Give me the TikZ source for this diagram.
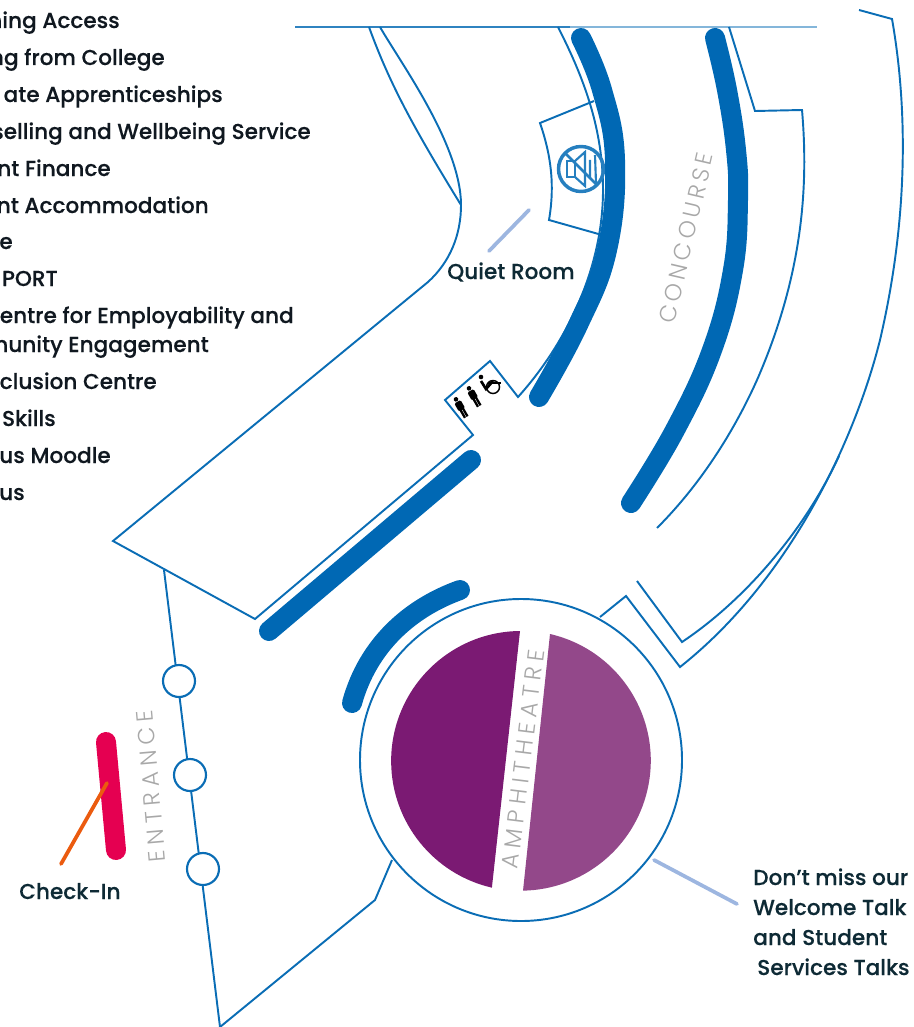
\documentclass[tikz,border=0pt]{standalone}
\usepackage{fontspec}
\newfontfamily\lab[FakeBold=0.25]{Poppins Medium}
\newfontfamily\thinlab[LetterSpace=23]{Poppins Light}
\newfontfamily\thincc[LetterSpace=17]{Poppins Light}
\definecolor{wall}{HTML}{0A6DB5}
\definecolor{band}{HTML}{0068B4}
\definecolor{pinkb}{HTML}{E50051}
\definecolor{orangeb}{HTML}{EB5B0F}
\definecolor{pointer}{HTML}{9DB6E0}
\definecolor{purpleA}{HTML}{7B1A73}
\definecolor{purpleB}{HTML}{93488A}
\definecolor{greyt}{HTML}{A8A8A8}
\definecolor{ink}{HTML}{101820}
\definecolor{inkb}{HTML}{0E2A35}
\tikzset{
 x=0.75pt,y=-0.75pt,
 wl/.style={draw=wall,line width=1.45pt,line join=miter},
 bandl/.style={draw=band,line width=15pt,line cap=round,line join=round},
 ptr/.style={draw=pointer,line width=2.8pt,line cap=round},
 listt/.style={anchor=base east,inner sep=0pt,font=\lab\fontsize{16.2}{16.2}\selectfont,text=ink},
 labt/.style={anchor=base west,inner sep=0pt,font=\lab\fontsize{16.2}{16.2}\selectfont,text=inkb},
 roomt/.style={inner sep=0pt,font=\thinlab\fontsize{17.5}{17.5}\selectfont,text=greyt},
 roomc/.style={inner sep=0pt,font=\thincc\fontsize{17.5}{17.5}\selectfont,text=greyt},
 door/.style={circle,draw=wall,line width=1.6pt,fill=white,minimum size=24pt,inner sep=0pt},
 person/.style={fill=black,draw=none},
}
\begin{document}
\begin{tikzpicture}
\useasboundingbox (0,0) rectangle (913,1027);
% list texts
\node[listt] (l1) at (120,28) {ning Access};
\node[listt] (l2) at (165,65) {ng from College};
\node[listt] (l3) at (223,102) {ate Apprenticeships};
\node[listt] (l4) at (311,139) {selling and Wellbeing Service};
\node[listt] (l5) at (111,176) {nt Finance};
\node[listt] (l6) at (209,213) {nt Accommodation};
\node[listt] (l7) at (13,249) {e};
\node[listt] (l8) at (58,286) {PORT};
\node[listt] (l9) at (294,323) {entre for Employability and};
\node[listt] (l10) at (209,352) {munity Engagement};
\node[listt] (l11) at (157,389) {clusion Centre};
\node[listt] (l12) at (56,426) {Skills};
\node[listt] (l13) at (111,463) {us Moodle};
\node[listt] (l14) at (25,500) {us};
% top rule
\draw[draw=wall!85,line width=0.85pt] (295,27) -- (570,27);
\draw[draw=wall!50,line width=0.8pt] (570,27) -- (817,27);
% left building wall
\draw[wl] (369,27) .. controls (390,85) and (415,130) .. (461,205);
\draw[wl] (380,27) .. controls (400,62) and (461,145) .. (461,205)
  .. controls (461,235) and (450,262) .. (428,282) -- (113,541) -- (255,619) -- (473,435) -- (445,400) -- (490,361) -- (518,397)
  .. controls (565,345) and (603,270) .. (603,190) .. controls (603,130) and (585,80) .. (558,27);
% quiet room
\draw[wl] (594,101) -- (540,123) .. controls (551,155) and (555,185) .. (549,220) -- (602,235);
% no sound icon
\begin{scope}[draw=band!85,line width=2.6pt]
 \draw (581,169) circle (22.5);
 \draw[line width=1.6pt] (567,161) rectangle (575,177);
 \draw[line width=1.6pt] (575,161) -- (585,152) -- (585,186) -- (575,177);
 \draw[line width=1.6pt] (590,160) -- (590,178) (595,155) -- (596,183);
 \draw[line width=1.9pt] (565,153) -- (597,185);
\end{scope}
% bands
\draw[bandl] plot[smooth,tension=0.7] coordinates {(581,38) (602,90) (615,160) (607,250) (578,325) (539,397)};
\draw[bandl] plot[smooth,tension=0.7] coordinates {(715,38) (727,90) (736,150) (738,200) (733,270) (712,350) (675,430) (631,503)};
\draw[bandl] (471,460) -- (269,631);
\draw[bandl] (460,590) .. controls (410,608) and (368,645) .. (352,703);
% concourse walls
\draw[wl] (729,27) -- (755,111) -- (802,110) .. controls (808,180) and (805,270) .. (757,380) .. controls (730,440) and (695,490) .. (657,528);
\draw[wl] (859,10) -- (892,19) .. controls (908,110) and (908,220) .. (880,340) .. controls (855,440) and (790,580) .. (680,667) -- (626,596) -- (600,617);
\draw[wl] (637,581) -- (682,642) .. controls (745,600) and (805,530) .. (839,456);
% entrance wall
\draw[wl] (164,570) -- (220,1027) -- (375,900) -- (392,860);
% amphitheatre
\draw[wl,fill=white] (521,760) circle (161);
\fill[purpleA] (520,631) arc[start angle=-90.5,end angle=-257,radius=130] -- cycle;
\fill[purpleB] (550,634) arc[start angle=-77,end angle=89,radius=130] -- cycle;
% doors
\node[door] (d1) at (179,681) {};
\node[door] (d2) at (190,775) {};
\node[door] (d3) at (203,869) {};
% check-in
\draw[draw=pinkb,line width=15pt,line cap=round] (106,742) -- (116,850);
\draw[draw=orangeb,line width=2.8pt,line cap=round] (107,783) -- (61,864);
% pointers
\draw[ptr] (529,210) -- (489,251);
\draw[ptr] (654,860) -- (737,904);
% toilets icons
\foreach \px/\py in {461/408,474/397}{
\begin{scope}[shift={(\px,\py)},rotate=30]
 \fill[person] (0,-10) circle (2.3);
 \fill[person,rounded corners=1pt] (-3.6,-7.2) rectangle (3.6,2);
 \fill[person] (-2.6,1) rectangle (-0.3,10.5);
 \fill[person] (0.3,1) rectangle (2.6,10.5);
\end{scope}}
\draw[line width=1.1pt] (493,387) circle (6.5);
\fill[person] (481,377) circle (2.3);
\draw[line width=2pt] (481,381) -- (486,389) -- (493,381);
\draw[line width=1.1pt] (488,383) -- (501,383);
% labels
\node[labt] (q) at (447,279) {Quiet Room};
\node[labt] (c) at (19,899) {Check-In};
\node[labt] (t1) at (753,885) {Don’t miss our};
\node[labt] (t2) at (753,915) {Welcome Talk};
\node[labt] (t3) at (753,945) {and Student};
\node[labt] (t4) at (757,975) {Services Talks};
\node[roomc,rotate=77] (cc) at (686,238) {CONCOURSE};
\node[roomt,rotate=95] (en) at (151,786) {ENTRANCE};
\node[roomt,rotate=83] (am) at (523,759) {AMPHITHEATRE};
\end{tikzpicture}
\end{document}
